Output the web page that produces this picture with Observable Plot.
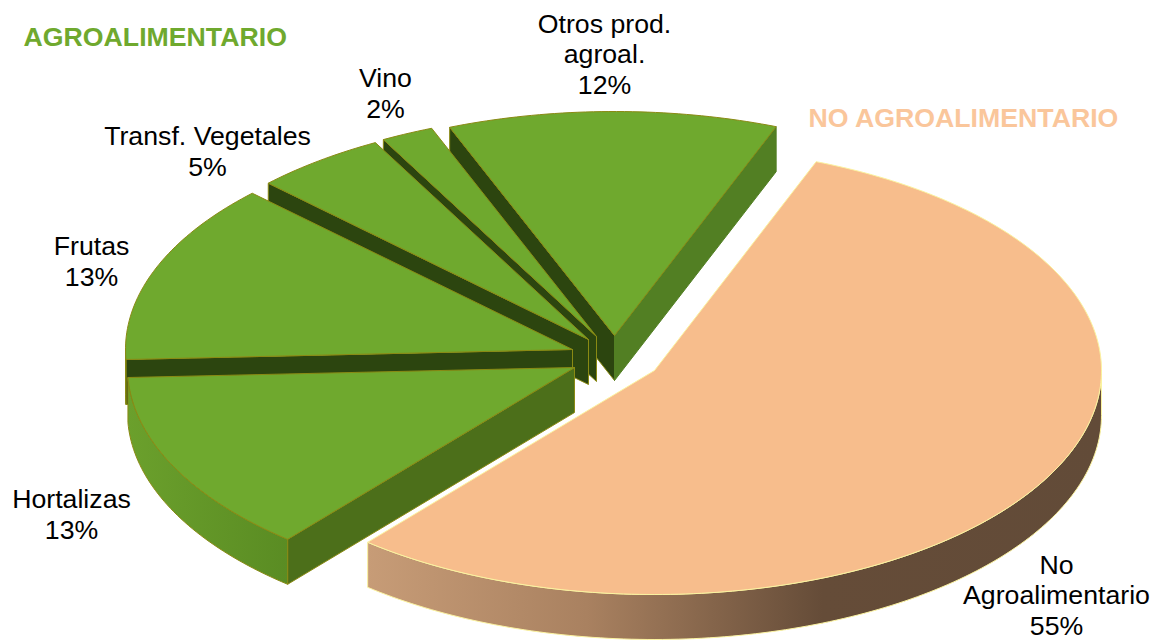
<!DOCTYPE html>
<html>
<head>
<meta charset="utf-8">
<script src="https://cdn.jsdelivr.net/npm/d3@7"></script>
<script src="https://cdn.jsdelivr.net/npm/@observablehq/plot@0.6"></script>
<style>html,body{margin:0;padding:0;background:#fff;overflow:hidden}svg{display:block}</style>
</head>
<body>
<div id="chart"></div>
<script>
// Data (shares drive the slice angles; labels show them rounded)
const names = ["No\nAgroalimentario", "Hortalizas", "Frutas", "Transf. Vegetales", "Vino", "Otros prod.\nagroal."];
const shares = [55.2, 13.2, 13.0, 4.8, 1.9, 11.9];

// Layout of the exploded, tilted 3D pie
const startAngle = 21.2, radiusX = 447, radiusY = 224, depth = 45;
const centersX = [654, 574, 572, 588, 596, 614];
const centersY = [370, 367, 349, 339, 336, 335];
const labelX = [1056, 71, 91, 207, 385, 604];
const labelY = [594, 513, 260, 150, 92, 53];

// Styles
const topFill = ["#f7bd8c", "#6fa92e", "#6fa92e", "#6fa92e", "#6fa92e", "#6fa92e"];
const edge = ["#fbf3a0", "#8a8a14", "#8a8a14", "#8a8a14", "#8a8a14", "#8a8a14"];
const startWall = [null, "#4c6f1a", "#2c450f", "#2c450f", "#2c450f", "#2c450f"];
const endWall = [null, null, null, null, null, "#527f23"];
const rimFill = ["url(#rimPeach)", "url(#rimGreen)", "#6a9f2c", "#6a9f2c", "#6a9f2c", "#6a9f2c"];

const point = (i, a, dz = 0) => {
  const t = a * Math.PI / 180;
  return {x: centersX[i] + radiusX * Math.sin(t), y: centersY[i] - radiusY * Math.cos(t) + dz};
};
const apex = (i, dz = 0) => ({x: centersX[i], y: centersY[i] + dz});
const arc = (i, a0, a1, dz = 0) => {
  const out = [], n = Math.max(2, Math.ceil((a1 - a0)));
  for (let k = 0; k <= n; k++) out.push(point(i, a0 + (a1 - a0) * k / n, dz));
  return out;
};

let cum = startAngle;
const slices = shares.map((v, i) => {
  const a0 = cum; cum += v * 3.6;
  return {i, a0, a1: cum};
});

const poly = (pts, fill, stroke, strokeWidth = 1) =>
  Plot.line([...pts, pts[0]], {x: "x", y: "y", fill, stroke, strokeWidth, strokeLinejoin: "round"});

const marks = [];

// Gradient definitions for the shaded outer rims
marks.push(() => {
  const defs = d3.create("svg:defs");
  const grad = (id, x1, x2, stops) => {
    const g = defs.append("linearGradient").attr("id", id)
      .attr("gradientUnits", "userSpaceOnUse")
      .attr("x1", x1).attr("x2", x2).attr("y1", 0).attr("y2", 0);
    stops.forEach(([o, c]) => g.append("stop").attr("offset", o).attr("stop-color", c));
  };
  grad("rimPeach", 366, 1101, [[0, "#c79c77"], [0.3, "#a98160"], [0.62, "#654c38"], [1, "#624b38"]]);
  grad("rimGreen", 127, 287, [[0, "#6ba02c"], [1, "#5a8c23"]]);
  return defs.node();
});

// Paint back to front: Otros, Vino, Transf., Frutas, Hortalizas, No Agroalimentario
for (const s of [5, 4, 3, 2, 1, 0].map(k => slices[k])) {
  const {i, a0, a1} = s;
  if (startWall[i]) {
    marks.push(poly([apex(i), point(i, a0), point(i, a0, depth), apex(i, depth)], startWall[i], edge[i]));
  }
  if (endWall[i]) {
    marks.push(poly([apex(i), point(i, a1), point(i, a1, depth), apex(i, depth)], endWall[i], endWall[i]));
  }
  const rimA0 = Math.max(a0, 90), rimA1 = Math.min(a1, 270);
  if (rimA1 > rimA0) {
    marks.push(poly([...arc(i, rimA0, rimA1), ...arc(i, rimA0, rimA1, depth).reverse()], rimFill[i], edge[i]));
  }
  marks.push(poly([apex(i), ...arc(i, a0, a1)], topFill[i], edge[i]));
}

// Category labels with rounded percentages
const labels = names.map((n, i) => ({text: `${n}\n${Math.round(shares[i])}%`, x: labelX[i], y: labelY[i]}));
marks.push(Plot.text(labels, {
  x: "x", y: "y", text: "text", fontSize: 26.7, lineHeight: 1.15, textAnchor: "middle",
  fill: "#000", fontFamily: "'Liberation Sans', Arial, sans-serif"
}));

// Group headings
const headings = [
  {text: "AGROALIMENTARIO", x: 23, y: 37, color: "#6fa92e"},
  {text: "NO AGROALIMENTARIO", x: 808, y: 118, color: "#fac69b"}
];
for (const h of headings) {
  marks.push(Plot.text([h], {
    x: "x", y: "y", text: "text", fontSize: 26.7, fontWeight: "bold", textAnchor: "start",
    fill: h.color, fontFamily: "'Liberation Sans', Arial, sans-serif"
  }));
}

const chart = Plot.plot({
  width: 1163, height: 640,
  margin: 0,
  x: {domain: [0, 1163], range: [0, 1163], axis: null},
  y: {domain: [0, 640], range: [0, 640], axis: null},
  marks
});
document.getElementById("chart").append(chart);
</script>
</body>
</html>
